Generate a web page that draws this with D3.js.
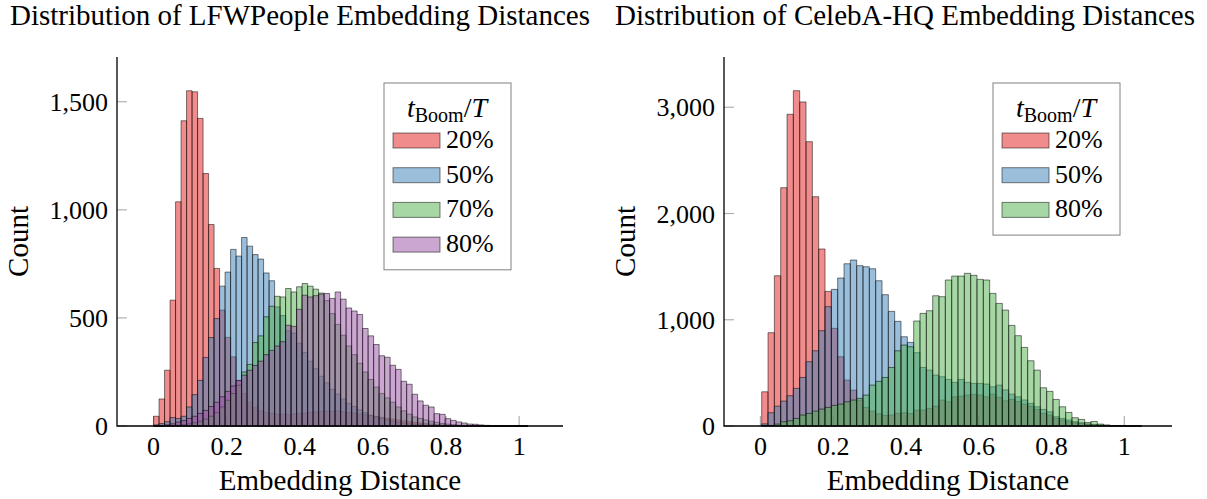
<!DOCTYPE html>
<html>
<head>
<meta charset="utf-8">
<script src="https://cdn.jsdelivr.net/npm/d3@7"></script>
<style>
  body { margin: 0; background: #fff; }
  svg text { font-family: "Liberation Serif", "Times New Roman", serif; fill: #000; }
</style>
</head>
<body>
<svg width="1207" height="499"></svg>
<script>
// ---- data ----
const xTicks = [0, 0.2, 0.4, 0.6, 0.8, 1];

// LFWPeople: 68 bins starting at 0, width ~0.01505
const lfwBinStart = 0, lfwBinWidth = 0.01505;
const lfwLabels = ["20%", "50%", "70%", "80%"];
const lfwYTicks = [0, 500, 1000, 1500];
const lfw20 = [45,125,258,582,1037,1412,1551,1546,1423,1168,
  932,729,536,410,320,211,150,110,85,70,
  62,58,55,55,52,55,58,60,62,65,
  68,70,68,70,66,62,60,55,52,48,
  44,40,36,32,28,24,20,17,14,11,
  9,7,5,4,3,2,2,1,1,0,
  0,0,0,0,0,0,0,0];
const lfw50 = [5,11,20,39,35,45,88,145,211,317,
  409,497,647,712,817,786,872,832,793,772,
  708,672,551,511,440,430,383,340,300,265,
  230,200,170,148,125,105,90,75,62,50,
  42,35,28,22,17,13,10,8,6,4,
  3,2,2,1,1,0,0,0,0,0,
  0,0,0,0,0,0,0,0];
const lfw70 = [0,0,1,2,4,6,10,15,22,32,
  45,62,88,119,150,188,250,285,386,417,
  505,554,600,597,636,620,644,659,647,633,
  615,580,520,470,420,370,330,290,250,215,
  180,150,130,110,88,70,55,42,35,28,
  22,17,12,9,6,4,3,2,1,1,
  0,0,0,0,0,0,0,0];
const lfw80 = [0,2,5,10,18,25,35,45,58,72,
  90,110,135,160,185,210,235,258,280,300,
  330,350,370,390,466,461,540,605,597,603,
  610,613,590,620,587,546,532,516,451,417,
  377,325,318,281,262,207,193,147,116,96,
  88,57,54,34,26,19,14,9,8,5,
  3,2,1,1,0,1,0,1];

// CelebA-HQ: 60 bins starting at ~0.0036, width ~0.0174
const celebBinStart = 0.0036, celebBinWidth = 0.0174;
const celebLabels = ["20%", "50%", "80%"];
const celebYTicks = [0, 1000, 2000, 3000];
const celeb20 = [322,878,1414,2243,2934,3156,3050,2676,2158,1666,
  1267,919,652,432,338,244,175,140,115,100,
  103,120,125,118,150,150,166,187,244,228,
  275,281,291,297,291,275,300,270,237,250,
  230,206,187,156,118,103,71,56,40,30,
  24,15,10,6,4,2,1,1,0,0];
const celeb50 = [20,125,187,234,285,354,457,605,708,897,
  1123,1286,1393,1527,1562,1509,1499,1480,1367,1236,
  1079,985,840,787,690,551,526,479,463,438,
  410,438,410,401,401,395,369,385,340,300,
  275,245,213,181,156,134,87,71,56,40,
  30,20,14,9,5,3,2,1,0,0];
const celeb80 = [2,5,18,40,49,71,103,118,140,159,
  175,194,206,228,244,260,291,385,420,457,
  551,708,762,746,988,1060,1085,1226,1217,1374,
  1411,1411,1437,1418,1380,1374,1248,1154,1091,947,
  850,740,614,526,360,326,250,181,128,78,
  62,34,43,18,10,4,3,2,1,1];

const colors = ["#e41a1c", "#377eb8", "#4daf4a", "#984ea3"];

var svg = d3.select('svg');
var fmtY = d3.format(',');
var fmtX = d3.format('~g');

function drawPanel(p) {
  var g = svg.append('g');
  var x = d3.scaleLinear().domain(p.xDomain).range([p.left, p.right]);
  var y = d3.scaleLinear().domain([0, p.yMax]).range([p.bottom, p.top]);

  /* ----------- tick marks (inside) ----------- */
  g.selectAll('line.xtick').data(xTicks).enter().append('line')
    .attr('class', 'xtick')
    .attr('x1', d => x(d)).attr('x2', d => x(d))
    .attr('y1', p.bottom).attr('y2', p.bottom - 10)
    .attr('stroke', '#b0b0b0').attr('stroke-width', 1.2);

  g.selectAll('line.ytick').data(p.yTicks).enter().append('line')
    .attr('class', 'ytick')
    .attr('x1', p.left).attr('x2', p.left + 10)
    .attr('y1', d => y(d)).attr('y2', d => y(d))
    .attr('stroke', '#b0b0b0').attr('stroke-width', 1.2);

  /* ----------- histogram bars ----------- */
  p.series.forEach(function (counts, k) {
    g.append('g').selectAll('path').data(counts).enter().append('path')
      .attr('d', function (c, i) {
        var x0 = x(p.binStart + i * p.binWidth), x1 = x(p.binStart + (i + 1) * p.binWidth);
        var y0 = y(0), y1 = y(c);
        return 'M' + x0 + ',' + y0 + 'V' + y1 + 'H' + x1 + 'V' + y0 + 'Z';
      })
      .attr('fill', colors[k]).attr('fill-opacity', 0.5)
      .attr('stroke', '#000').attr('stroke-opacity', 0.5).attr('stroke-width', 1);
  });

  /* ----------- axis lines ----------- */
  g.append('path')
    .attr('d', 'M' + p.left + ',' + p.top + 'V' + p.bottom + 'H' + p.right)
    .attr('fill', 'none').attr('stroke', '#000').attr('stroke-width', 1.3);

  /* ----------- tick labels ----------- */
  g.selectAll('text.xlab').data(xTicks).enter().append('text')
    .attr('class', 'xlab')
    .attr('x', d => x(d)).attr('y', p.bottom + 29)
    .attr('text-anchor', 'middle').style('font-size', '26px')
    .text(fmtX);

  g.selectAll('text.ylab').data(p.yTicks).enter().append('text')
    .attr('class', 'ylab')
    .attr('x', p.left - 9).attr('y', d => y(d) + 9)
    .attr('text-anchor', 'end').style('font-size', '26px')
    .text(fmtY);

  /* ----------- axis titles ----------- */
  g.append('text')
    .attr('x', (p.left + p.right) / 2).attr('y', p.bottom + 64)
    .attr('text-anchor', 'middle').style('font-size', '29px')
    .text('Embedding Distance');

  g.append('text')
    .attr('transform', 'translate(' + (p.left - 89) + ',' + ((p.top + p.bottom) / 2) + ') rotate(-90)')
    .attr('text-anchor', 'middle').style('font-size', '29px')
    .text('Count');

  g.append('text')
    .attr('x', p.titleX).attr('y', 25)
    .attr('text-anchor', 'middle').style('font-size', '29px')
    .text(p.title);

  /* ----------- legend ----------- */
  var lg = g.append('g').attr('transform', 'translate(' + p.legendX + ',83)');
  var boxH = 48 + p.labels.length * 34.7;
  lg.append('rect')
    .attr('x', 0).attr('y', 0).attr('width', 127).attr('height', boxH)
    .attr('fill', '#fff').attr('stroke', '#808080').attr('stroke-width', 1);

  var lt = lg.append('text').attr('x', 63).attr('y', 34)
    .attr('text-anchor', 'middle').style('font-size', '28px');
  lt.append('tspan').style('font-style', 'italic').text('t');
  lt.append('tspan').attr('dy', 5).style('font-size', '20px').text('Boom');
  lt.append('tspan').attr('dy', -5).text('/');
  lt.append('tspan').style('font-style', 'italic').text('T');

  var rows = lg.selectAll('g.row').data(p.labels).enter().append('g')
    .attr('class', 'row')
    .attr('transform', (d, i) => 'translate(0,' + (50 + i * 34.7) + ')');
  rows.append('rect')
    .attr('x', 9).attr('y', 0).attr('width', 47).attr('height', 15)
    .attr('fill', (d, i) => colors[i]).attr('fill-opacity', 0.5)
    .attr('stroke', '#000').attr('stroke-opacity', 0.5).attr('stroke-width', 1);
  rows.append('text')
    .attr('x', 62).attr('y', 15)
    .style('font-size', '26px')
    .text(d => d);
}

drawPanel({
  left: 117, right: 563, top: 57, bottom: 426,
  xDomain: [-0.1, 1.12], yMax: 1707,
  yTicks: lfwYTicks,
  binStart: lfwBinStart, binWidth: lfwBinWidth,
  series: [lfw20, lfw50, lfw70, lfw80],
  labels: lfwLabels,
  title: 'Distribution of LFWPeople Embedding Distances', titleX: 300,
  legendX: 384
});

drawPanel({
  left: 724, right: 1172, top: 57, bottom: 426,
  xDomain: [-0.1, 1.131], yMax: 3473,
  yTicks: celebYTicks,
  binStart: celebBinStart, binWidth: celebBinWidth,
  series: [celeb20, celeb50, celeb80],
  labels: celebLabels,
  title: 'Distribution of CelebA-HQ Embedding Distances', titleX: 905,
  legendX: 993
});
</script>
</body>
</html>
